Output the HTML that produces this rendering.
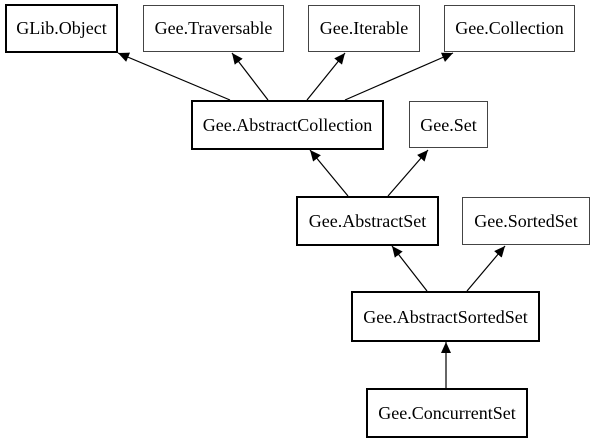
<!DOCTYPE html>
<html><head><style>html,body{margin:0;padding:0;background:#fff}svg{display:block}</style></head>
<body>
<svg width="593" height="443" viewBox="0 0 593 443" xmlns="http://www.w3.org/2000/svg" font-family="Liberation Serif, serif" font-size="18">
<defs>
<marker id="a" markerUnits="userSpaceOnUse" markerWidth="12" markerHeight="10" refX="11" refY="5" orient="auto">
<path d="M0,0 L11,5 L0,10 Z" fill="#000"/>
</marker>
</defs>
<g fill="#fff">
<rect x="6" y="5" width="111" height="47" stroke="#000" stroke-width="2"/>
<rect x="143.5" y="5.5" width="140" height="46" stroke="#444" stroke-width="1"/>
<rect x="308.5" y="5.5" width="111" height="46" stroke="#444" stroke-width="1"/>
<rect x="444.5" y="5.5" width="130" height="46" stroke="#444" stroke-width="1"/>
<rect x="192" y="101" width="191" height="48" stroke="#000" stroke-width="2"/>
<rect x="409.5" y="101.5" width="78" height="46" stroke="#444" stroke-width="1"/>
<rect x="297" y="197" width="141" height="48" stroke="#000" stroke-width="2"/>
<rect x="462.5" y="197.5" width="127" height="47" stroke="#444" stroke-width="1"/>
<rect x="352" y="292" width="187" height="49" stroke="#000" stroke-width="2"/>
<rect x="367" y="389" width="160" height="48" stroke="#000" stroke-width="2"/>
</g>
<g stroke="#000" stroke-width="1.2" marker-end="url(#a)">
<line x1="230" y1="100" x2="118" y2="53"/>
<line x1="268" y1="100" x2="232" y2="53"/>
<line x1="307" y1="100" x2="345" y2="53"/>
<line x1="345" y1="100" x2="453" y2="53"/>
<line x1="348" y1="196" x2="310" y2="150"/>
<line x1="388" y1="196" x2="428" y2="150"/>
<line x1="427" y1="291" x2="392" y2="246"/>
<line x1="467" y1="291" x2="505" y2="246"/>
<line x1="446" y1="388" x2="446" y2="342"/>
</g>
<g text-anchor="middle" fill="#000">
<text x="61.5" y="34">GLib.Object</text>
<text x="213.5" y="34">Gee.Traversable</text>
<text x="364" y="34">Gee.Iterable</text>
<text x="509.5" y="34">Gee.Collection</text>
<text x="287.5" y="131">Gee.AbstractCollection</text>
<text x="448.5" y="131">Gee.Set</text>
<text x="367.5" y="227">Gee.AbstractSet</text>
<text x="526" y="227">Gee.SortedSet</text>
<text x="445.5" y="323">Gee.AbstractSortedSet</text>
<text x="447" y="419">Gee.ConcurrentSet</text>
</g>
</svg>
</body></html>
